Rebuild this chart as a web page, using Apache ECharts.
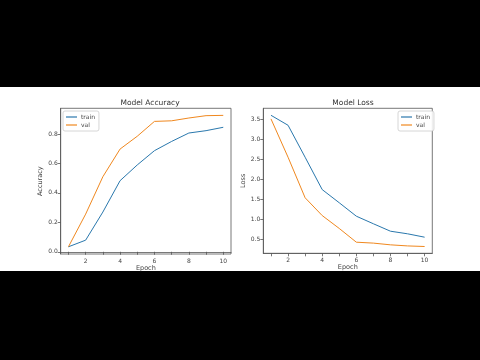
<!DOCTYPE html>
<html><head><meta charset="utf-8">
<script src="https://cdn.jsdelivr.net/npm/echarts@6/dist/echarts.min.js"></script>
<style>html,body{margin:0;padding:0;background:#000}#c{width:480px;height:360px}</style>
</head><body><div id="c"></div>
<script>
const epochs = [1,2,3,4,5,6,7,8,9,10];
const accTrain = [0.034,0.079,0.27,0.483,0.59,0.687,0.75,0.807,0.823,0.846];
const accVal = [0.034,0.256,0.51,0.698,0.785,0.886,0.89,0.909,0.925,0.927];
const lossTrain = [3.61,3.36,2.56,1.75,1.42,1.084,0.894,0.708,0.643,0.558];
const lossVal = [3.52,2.56,1.545,1.10,0.777,0.433,0.41,0.367,0.34,0.325];
const xLabels = [2,4,6,8,10];
const accTicks = [0,0.2,0.4,0.6,0.8];
const lossTicks = [0.5,1.0,1.5,2.0,2.5,3.0,3.5];

const font = 'DejaVu Sans';
const blue = '#2a78ad', orange = '#f0881f';
const axc = '#555';
function pairs(ys){ return epochs.map((e,i)=>[e, ys[i]]); }
function xAx(gi){
  return {type:'value', gridIndex:gi, min:0.55, max:10.45,
    name:'Epoch', nameLocation:'middle', nameGap:10,
    nameTextStyle:{fontFamily:font,fontSize:6.5,color:'#444'},
    axisLine:{show:true,lineStyle:{color:axc,width:0.8}},
    axisTick:{show:true,length:3,customValues:epochs,lineStyle:{color:axc,width:0.8}},
    axisLabel:{customValues:xLabels,fontFamily:font,fontSize:6,color:'#444',margin:4},
    splitLine:{show:false}};
}
function yAx(gi,min,max,ticks,name,gap){
  return {type:'value', gridIndex:gi, min:min, max:max,
    name:name, nameLocation:'middle', nameGap:gap,
    nameTextStyle:{fontFamily:font,fontSize:6.5,color:'#444'},
    axisLine:{show:true,lineStyle:{color:axc,width:0.8}},
    axisTick:{show:true,length:3,customValues:ticks,lineStyle:{color:axc,width:0.8}},
    axisLabel:{customValues:ticks,fontFamily:font,fontSize:6,color:'#444',margin:3,
      formatter:v=>v.toFixed(1)},
    splitLine:{show:false}};
}
function ser(name,data,color,gi){
  return {type:'line',name:name,xAxisIndex:gi,yAxisIndex:gi,data:pairs(data),
    showSymbol:false,symbol:'none',lineStyle:{color:color,width:1},itemStyle:{color:color},animation:false};
}
function leg(left,top){
  return {orient:'vertical',left:left,top:top,data:['train','val'],
    icon:'rect',itemWidth:11,itemHeight:1.2,itemGap:2,
    padding:[3,4,3,3],borderColor:'#ccc',borderWidth:0.8,borderRadius:2,
    backgroundColor:'rgba(255,255,255,0.85)',
    textStyle:{fontFamily:font,fontSize:6,color:'#444',padding:[0,0,0,-1]}};
}
const chart = echarts.init(document.getElementById('c'),null,{renderer:'canvas'});
chart.setOption({
  backgroundColor:'#fff',
  animation:false,
  graphic:[
    {type:'rect',shape:{x:0,y:0,width:480,height:87},style:{fill:'#000'},z:-1},
    {type:'rect',shape:{x:0,y:271,width:480,height:89},style:{fill:'#000'},z:-1}
  ],
  title:[
    {text:'Model Accuracy',left:145,top:94,textAlign:'center',textStyle:{fontFamily:font,fontSize:7.5,fontWeight:'normal',color:'#333'}},
    {text:'Model Loss',left:348,top:94,textAlign:'center',textStyle:{fontFamily:font,fontSize:7.5,fontWeight:'normal',color:'#333'}}
  ],
  grid:[
    {left:60.7,top:108.3,width:170.3,height:145.7,show:true,borderColor:axc,borderWidth:0.8,backgroundColor:'#fff'},
    {left:263.3,top:108.3,width:169,height:145,show:true,borderColor:axc,borderWidth:0.8,backgroundColor:'#fff'}
  ],
  legend:[leg(63,111),leg(398,111)],
  xAxis:[xAx(0),xAx(1)],
  yAxis:[yAx(0,-0.015,0.975,accTicks,'Accuracy',15),yAx(1,0.155,3.785,lossTicks,'Loss',14)],
  series:[
    ser('train',accTrain,blue,0),ser('val',accVal,orange,0),
    ser('train',lossTrain,blue,1),ser('val',lossVal,orange,1)
  ]
});
</script></body></html>
